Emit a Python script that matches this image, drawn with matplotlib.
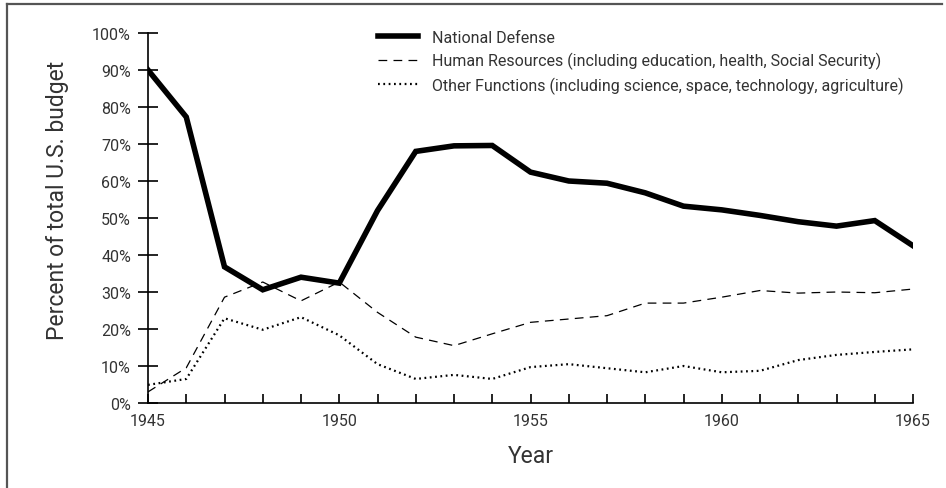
import matplotlib.pyplot as plt
from matplotlib.lines import Line2D

# Données (pourcentage du budget total)
years = list(range(1945, 1966))
national_defense = [90, 77.3, 36.8, 30.6, 34, 32.4, 52, 68, 69.5, 69.6, 62.4, 60, 59.4, 56.8,
                    53.2, 52.2, 50.7, 49, 47.8, 49.3, 42.5]
human_resources = [3, 9.5, 28.6, 32.7, 27.6, 32.7, 24.5, 17.8, 15.5, 18.7, 21.8, 22.7, 23.6, 27,
                   27, 28.6, 30.4, 29.7, 30, 29.8, 30.8]
other_functions = [4.9, 6.5, 22.9, 19.8, 23.2, 18.3, 10.5, 6.5, 7.6, 6.5, 9.7, 10.5, 9.4, 8.3,
                   10, 8.3, 8.7, 11.6, 13, 13.8, 14.5]
labels = ['National Defense',
          'Human Resources (including education, health, Social Security)',
          'Other Functions (including science, space, technology, agriculture)']
yticks = list(range(0, 101, 10))
xtick_labels = [1945, 1950, 1955, 1960, 1965]

plt.rcParams['font.family'] = ['Roboto', 'DejaVu Sans']
text_color = '#333333'

fig = plt.figure(figsize=(9.46, 4.89), dpi=100)
ax = fig.add_axes([148 / 946, 85 / 489, 765 / 946, 370 / 489])

ax.plot(years, national_defense, color='black', lw=4, solid_joinstyle='miter', label=labels[0])
ax.plot(years, human_resources, color='black', lw=0.9, dashes=(7, 5), label=labels[1])
ax.plot(years, other_functions, color='black', lw=1.6, linestyle=(0, (0.8, 1.6)), label=labels[2])

ax.set_xlim(1945, 1965)
ax.set_ylim(0, 100)
for s in ['top', 'right']:
    ax.spines[s].set_visible(False)
for s in ['left', 'bottom']:
    ax.spines[s].set_linewidth(1.2)

ax.set_yticks(yticks)
ax.set_yticklabels([f'{v}%' for v in yticks])
ax.set_xticks(years)
ax.set_xticklabels([str(y) if y in xtick_labels else '' for y in years])
ax.tick_params(axis='y', direction='inout', length=14.4, width=1.2, labelsize=11.5,
               labelcolor=text_color, pad=5)
ax.tick_params(axis='x', direction='in', length=6.5, width=1.2, labelsize=11.5,
               labelcolor=text_color, pad=7)

ax.set_xlabel('Year', fontsize=16.5, color=text_color, labelpad=12)
ax.set_ylabel('Percent of total U.S. budget', fontsize=16.5, color=text_color)
ax.yaxis.set_label_coords(-0.103, 0.55)

ax.legend(loc='upper left', bbox_to_anchor=(378 / 946, 1 - 31 / 489),
          bbox_transform=fig.transFigure, frameon=False, fontsize=11.5,
          handlelength=2.5, handletextpad=0.87, labelspacing=0.45,
          borderpad=0, borderaxespad=0, labelcolor=text_color)

# cadre partiel (gauche + haut) comme dans l'original
fig.add_artist(Line2D([7 / 946, 7 / 946], [0, 1 - 5 / 489], transform=fig.transFigure,
                      color='#555555', lw=1.6))
fig.add_artist(Line2D([7 / 946, 942 / 946], [1 - 5 / 489, 1 - 5 / 489], transform=fig.transFigure,
                      color='#555555', lw=1.6))

fig.savefig('out.png', dpi=100)
